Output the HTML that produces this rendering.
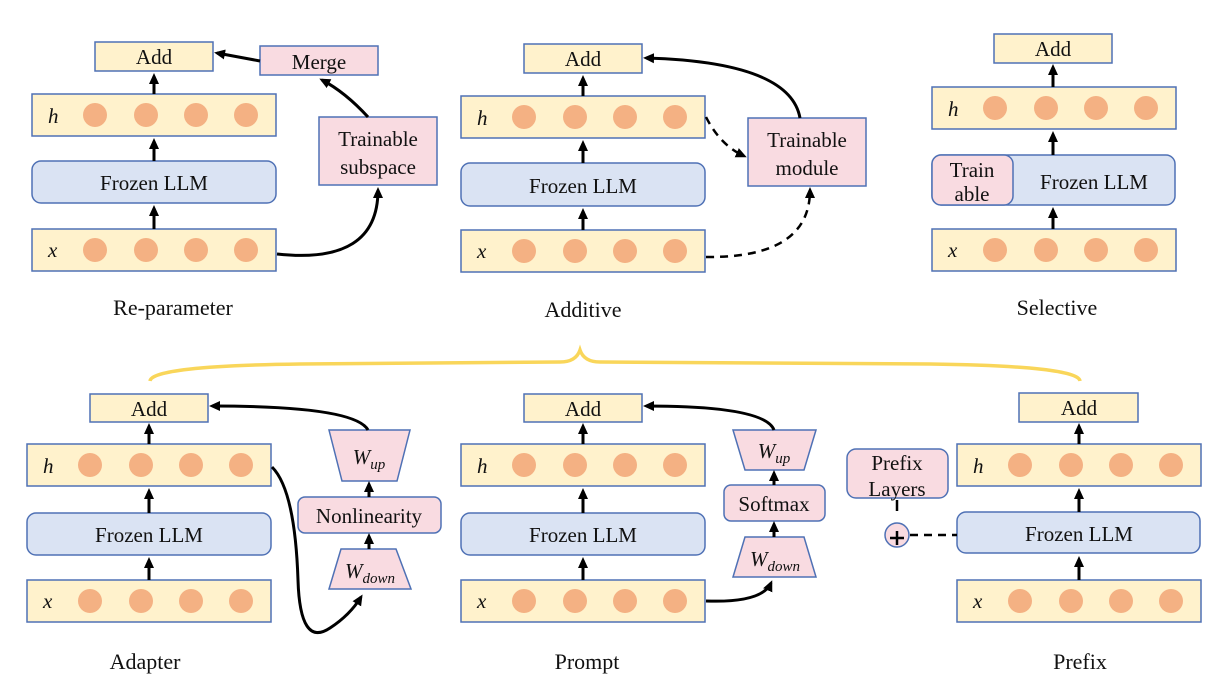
<!DOCTYPE html>
<html><head><meta charset="utf-8"><style>
html,body{margin:0;padding:0;background:#fff}
svg{display:block}
svg text{font-family:"Liberation Serif","Times New Roman",serif;fill:#111}
.y{fill:#fff2cc;stroke:#4f71b5;stroke-width:1.5}
.b{fill:#dae3f3;stroke:#4f71b5;stroke-width:1.5}
.p{fill:#f9dbe1;stroke:#4f71b5;stroke-width:1.5}
.c{fill:#f4b183}
.a{stroke:#000;stroke-width:3;fill:none}
.d{stroke:#000;stroke-width:2.5;fill:none;stroke-dasharray:8,6}
</style></head><body>
<svg width="1229" height="691" viewBox="0 0 1229 691" xmlns="http://www.w3.org/2000/svg" font-family="Liberation Serif, serif">
<defs>
<marker id="ar" markerWidth="12" markerHeight="12" refX="8" refY="6" orient="auto" markerUnits="userSpaceOnUse"><path d="M0,1 L11,6 L0,11 Z" fill="#000"/></marker>
<g id="col">
<rect class="y" x="0" y="0" width="244" height="42"/>
<circle class="c" cx="63" cy="21" r="12"/><circle class="c" cx="114" cy="21" r="12"/><circle class="c" cx="164" cy="21" r="12"/><circle class="c" cx="214" cy="21" r="12"/>
</g>
</defs>
<g font-size="21">
<!-- Re-parameter -->
<rect class="y" x="95" y="42" width="118" height="29"/><text x="154" y="64" text-anchor="middle">Add</text>
<use href="#col" x="32" y="94"/><text x="48" y="123" font-style="italic">h</text>
<rect class="b" x="32" y="161" width="244" height="42" rx="9"/><text x="154" y="190" text-anchor="middle">Frozen LLM</text>
<use href="#col" x="32" y="229"/><text x="48" y="257" font-style="italic">x</text>
<line class="a" x1="154" y1="94" x2="154" y2="76" marker-end="url(#ar)"/>
<line class="a" x1="154" y1="161" x2="154" y2="141" marker-end="url(#ar)"/>
<line class="a" x1="154" y1="229" x2="154" y2="208" marker-end="url(#ar)"/>
<rect class="p" x="260" y="46" width="118" height="29"/><text x="319" y="69" text-anchor="middle">Merge</text>
<rect class="p" x="319" y="117" width="118" height="68"/><text x="378" y="146" text-anchor="middle">Trainable</text><text x="378" y="174" text-anchor="middle">subspace</text>
<line class="a" x1="260" y1="61" x2="217" y2="53" marker-end="url(#ar)"/>
<path class="a" d="M368,117 Q345,92 322,80" marker-end="url(#ar)"/>
<path class="a" d="M277,254 Q378,265 378,190" marker-end="url(#ar)"/>
<text x="173" y="315" text-anchor="middle" font-size="22">Re-parameter</text>
<!-- Additive -->
<rect class="y" x="524" y="44" width="118" height="29"/><text x="583" y="66" text-anchor="middle">Add</text>
<use href="#col" x="461" y="96"/><text x="477" y="125" font-style="italic">h</text>
<rect class="b" x="461" y="163" width="244" height="43" rx="9"/><text x="583" y="193" text-anchor="middle">Frozen LLM</text>
<use href="#col" x="461" y="230"/><text x="477" y="258" font-style="italic">x</text>
<line class="a" x1="583" y1="96" x2="583" y2="78" marker-end="url(#ar)"/>
<line class="a" x1="583" y1="163" x2="583" y2="143" marker-end="url(#ar)"/>
<line class="a" x1="583" y1="230" x2="583" y2="211" marker-end="url(#ar)"/>
<rect class="p" x="748" y="118" width="118" height="68"/><text x="807" y="147" text-anchor="middle">Trainable</text><text x="807" y="175" text-anchor="middle">module</text>
<path class="d" d="M706,117 Q720,145 744,156" marker-end="url(#ar)"/>
<path class="d" d="M706,257 Q810,258 810,190" marker-end="url(#ar)"/>
<path class="a" d="M800,118 Q790,62 646,58" marker-end="url(#ar)"/>
<text x="583" y="317" text-anchor="middle" font-size="22">Additive</text>
<!-- Selective -->
<rect class="y" x="994" y="34" width="118" height="29"/><text x="1053" y="56" text-anchor="middle">Add</text>
<use href="#col" x="932" y="87"/><text x="948" y="116" font-style="italic">h</text>
<rect class="b" x="932" y="155" width="243" height="50" rx="9"/>
<rect class="p" x="932" y="155" width="81" height="50" rx="9"/>
<text x="972" y="177" text-anchor="middle">Train</text><text x="972" y="201" text-anchor="middle">able</text>
<text x="1094" y="189" text-anchor="middle">Frozen LLM</text>
<use href="#col" x="932" y="229"/><text x="948" y="257" font-style="italic">x</text>
<line class="a" x1="1053" y1="87" x2="1053" y2="67" marker-end="url(#ar)"/>
<line class="a" x1="1053" y1="155" x2="1053" y2="134" marker-end="url(#ar)"/>
<line class="a" x1="1053" y1="229" x2="1053" y2="210" marker-end="url(#ar)"/>
<text x="1057" y="315" text-anchor="middle" font-size="22">Selective</text>
<!-- brace -->
<path d="M150,381 Q152,366 300,364 L560,362 Q576,362 580,350 Q584,362 600,362 L930,364 Q1078,366 1080,381" stroke="#f9d65a" stroke-width="3.5" fill="none"/>
<!-- Adapter -->
<rect class="y" x="90" y="394" width="118" height="28"/><text x="149" y="416" text-anchor="middle">Add</text>
<use href="#col" x="27" y="444"/><text x="43" y="473" font-style="italic">h</text>
<rect class="b" x="27" y="513" width="244" height="42" rx="9"/><text x="149" y="542" text-anchor="middle">Frozen LLM</text>
<use href="#col" x="27" y="580"/><text x="43" y="608" font-style="italic">x</text>
<line class="a" x1="149" y1="444" x2="149" y2="426" marker-end="url(#ar)"/>
<line class="a" x1="149" y1="513" x2="149" y2="491" marker-end="url(#ar)"/>
<line class="a" x1="149" y1="580" x2="149" y2="560" marker-end="url(#ar)"/>
<polygon class="p" points="329,430 410,430 397,481 342,481"/><text x="369" y="464" text-anchor="middle" font-style="italic">W<tspan font-size="15" dy="5">up</tspan></text>
<rect class="p" x="298" y="497" width="143" height="36" rx="7"/><text x="369" y="523" text-anchor="middle">Nonlinearity</text>
<polygon class="p" points="341,549 396,549 411,589 329,589"/><text x="370" y="578" text-anchor="middle" font-style="italic">W<tspan font-size="15" dy="5">down</tspan></text>
<line class="a" x1="369" y1="497" x2="369" y2="484" stroke-width="2.5" marker-end="url(#ar)"/>
<line class="a" x1="369" y1="549" x2="369" y2="536" stroke-width="2.5" marker-end="url(#ar)"/>
<path class="a" d="M272,467 Q295,490 298,580 Q300,648 330,628 Q350,615 361,597" marker-end="url(#ar)"/>
<path class="a" d="M368,430 Q355,406 212,406" marker-end="url(#ar)"/>
<text x="145" y="669" text-anchor="middle" font-size="22">Adapter</text>
<!-- Prompt -->
<rect class="y" x="524" y="394" width="118" height="28"/><text x="583" y="416" text-anchor="middle">Add</text>
<use href="#col" x="461" y="444"/><text x="477" y="473" font-style="italic">h</text>
<rect class="b" x="461" y="513" width="244" height="42" rx="9"/><text x="583" y="542" text-anchor="middle">Frozen LLM</text>
<use href="#col" x="461" y="580"/><text x="477" y="608" font-style="italic">x</text>
<line class="a" x1="583" y1="444" x2="583" y2="426" marker-end="url(#ar)"/>
<line class="a" x1="583" y1="513" x2="583" y2="491" marker-end="url(#ar)"/>
<line class="a" x1="583" y1="580" x2="583" y2="560" marker-end="url(#ar)"/>
<polygon class="p" points="733,430 816,430 804,470 745,470"/><text x="774" y="458" text-anchor="middle" font-style="italic">W<tspan font-size="15" dy="5">up</tspan></text>
<rect class="p" x="724" y="485" width="101" height="36" rx="7"/><text x="774" y="511" text-anchor="middle">Softmax</text>
<polygon class="p" points="745,537 804,537 816,577 733,577"/><text x="775" y="566" text-anchor="middle" font-style="italic">W<tspan font-size="15" dy="5">down</tspan></text>
<line class="a" x1="774" y1="485" x2="774" y2="473" stroke-width="2.5" marker-end="url(#ar)"/>
<line class="a" x1="774" y1="537" x2="774" y2="524" stroke-width="2.5" marker-end="url(#ar)"/>
<path class="a" d="M706,601 Q762,603 771,583" marker-end="url(#ar)"/>
<path class="a" d="M774,430 Q765,406 646,406" marker-end="url(#ar)"/>
<text x="587" y="669" text-anchor="middle" font-size="22">Prompt</text>
<!-- Prefix -->
<rect class="y" x="1019" y="393" width="119" height="29"/><text x="1079" y="415" text-anchor="middle">Add</text>
<use href="#col" x="957" y="444"/><text x="973" y="473" font-style="italic">h</text>
<rect class="b" x="957" y="512" width="243" height="41" rx="9"/><text x="1079" y="541" text-anchor="middle">Frozen LLM</text>
<use href="#col" x="957" y="580"/><text x="973" y="608" font-style="italic">x</text>
<line class="a" x1="1079" y1="444" x2="1079" y2="426" marker-end="url(#ar)"/>
<line class="a" x1="1079" y1="512" x2="1079" y2="491" marker-end="url(#ar)"/>
<line class="a" x1="1079" y1="580" x2="1079" y2="559" marker-end="url(#ar)"/>
<rect class="p" x="847" y="449" width="101" height="49" rx="9"/><text x="897" y="470" text-anchor="middle">Prefix</text><text x="897" y="496" text-anchor="middle">Layers</text>
<line x1="897" y1="500" x2="897" y2="511" stroke="#000" stroke-width="2.5"/>
<circle cx="897" cy="535" r="12" class="p"/>
<line x1="890" y1="538" x2="904" y2="538" stroke="#000" stroke-width="2.5"/><line x1="897" y1="531" x2="897" y2="545" stroke="#000" stroke-width="2.5"/>
<line class="d" x1="910" y1="535" x2="957" y2="535"/>
<text x="1080" y="669" text-anchor="middle" font-size="22">Prefix</text>
</g>
</svg>
</body></html>
